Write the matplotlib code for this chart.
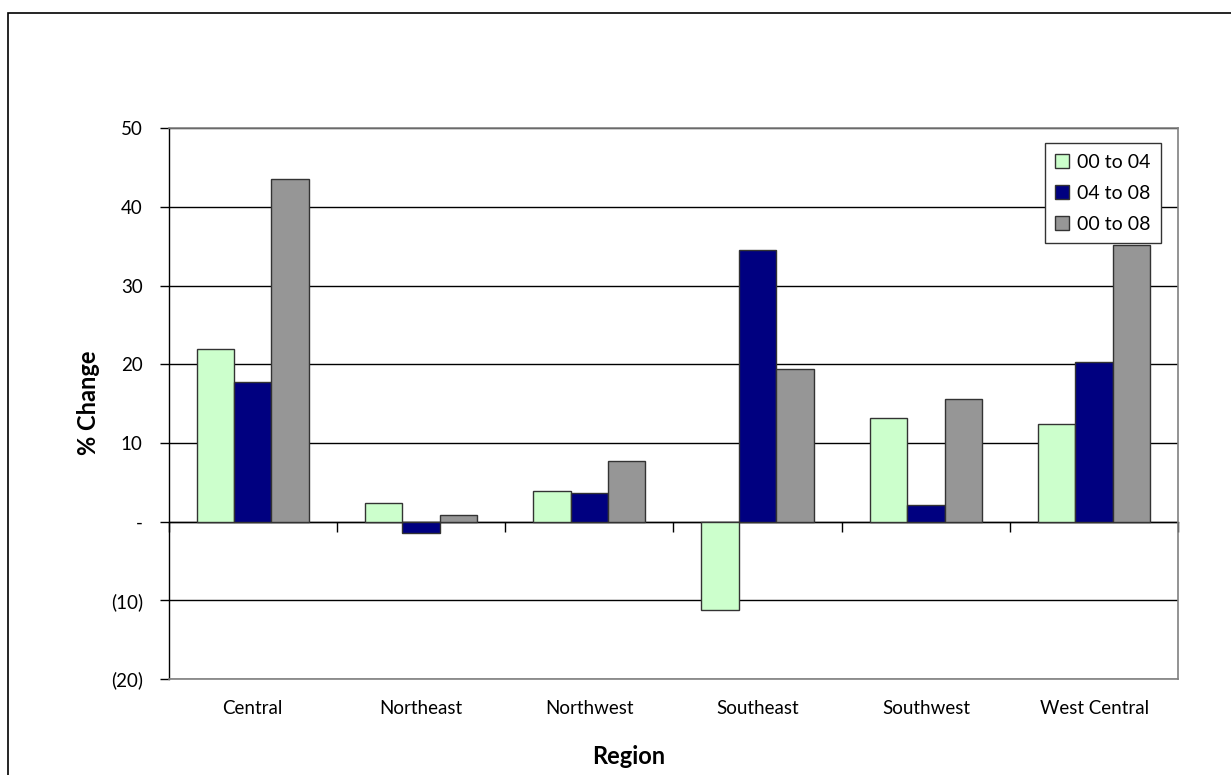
import matplotlib
matplotlib.use("Agg")
import matplotlib.pyplot as plt
import numpy as np
from matplotlib.patches import Rectangle

regions = ["Central", "Northeast", "Northwest", "Southeast", "Southwest", "West Central"]
s_00_04 = [22.0, 2.4, 3.9, -11.2, 13.2, 12.4]
s_04_08 = [17.7, -1.5, 3.6, 34.5, 2.1, 20.3]
s_00_08 = [43.5, 0.9, 7.7, 19.4, 15.6, 35.2]
series_names = ["00 to 04", "04 to 08", "00 to 08"]
colors = ["#CCFFCC", "#000080", "#969696"]
yticks = [-20, -10, 0, 10, 20, 30, 40, 50]
ytick_labels = ["(20)", "(10)", "-", "10", "20", "30", "40", "50"]

plt.rcParams['font.family'] = ['Lato', 'DejaVu Sans']

fig = plt.figure(figsize=(12.31, 7.75), dpi=100)
# outer chart-area border
fig.patches.append(Rectangle((8 / 1231, -0.1), 1.2, 1 - 13 / 775 + 0.1,
                             transform=fig.transFigure, fill=False,
                             edgecolor="black", linewidth=1.2, zorder=0))

ax = fig.add_axes([168.5 / 1231, 1 - 679 / 775, (1178.3 - 168.5) / 1231, (679 - 128.3) / 775])

x = np.arange(len(regions))
w = 1 / 4.5
for i, (vals, name, c) in enumerate(zip([s_00_04, s_04_08, s_00_08], series_names, colors)):
    ax.bar(x + (i - 1) * w, vals, width=w, color=c, edgecolor="#333333",
           linewidth=1.0, label=name, zorder=3)

ax.set_xlim(-0.5, len(regions) - 0.5)
ax.set_ylim(-20, 50)
ax.set_yticks(yticks)
ax.set_yticklabels(ytick_labels)
ax.yaxis.grid(True, color="black", linewidth=1.0, zorder=0)
ax.set_axisbelow(True)

ax.set_xticks(x)
ax.set_xticklabels(regions)
ax.tick_params(axis="x", length=0, pad=15, labelsize=13.5)
ax.tick_params(axis="y", length=6.5, width=1, direction="out", pad=12, labelsize=13.5, color="black")

for side in ["top", "right", "bottom"]:
    ax.spines[side].set_color("#808080")
    ax.spines[side].set_linewidth(1.2)
ax.spines["left"].set_color("black")
ax.spines["left"].set_linewidth(1.0)

# zero axis with tick marks between categories
sec = ax.secondary_xaxis(20 / 70)
sec.set_xticks(np.arange(len(regions) + 1) - 0.5)
sec.set_xticklabels([])
sec.tick_params(axis="x", length=7, width=1, direction="out", color="black")
sec.spines["bottom"].set_color("black")
sec.spines["bottom"].set_linewidth(1.0)

fig.text(88 / 1231, 1 - 403 / 775, "% Change", rotation=90, ha="center", va="center",
         fontsize=17, fontweight="bold")
fig.text(629 / 1231, 1 - 757 / 775, "Region", ha="center", va="center",
         fontsize=17, fontweight="bold")

leg = ax.legend(loc="upper right", bbox_to_anchor=(1161 / 1231, 1 - 143 / 775),
                bbox_transform=fig.transFigure, fontsize=14, frameon=True,
                fancybox=False, edgecolor="#333333", framealpha=1,
                handlelength=0.7, handleheight=0.7, handletextpad=0.4,
                labelspacing=0.72, borderpad=0.55, borderaxespad=0)
leg.get_frame().set_linewidth(1.0)

fig.savefig("out.png", dpi=100)
